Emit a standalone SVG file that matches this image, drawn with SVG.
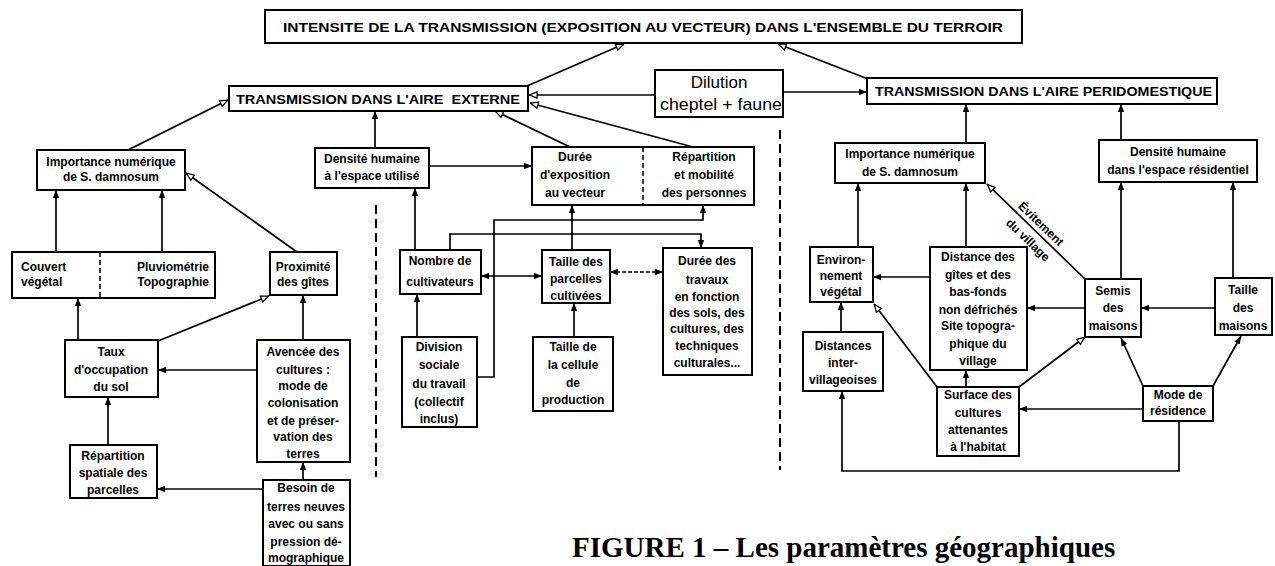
<svg xmlns="http://www.w3.org/2000/svg" width="1275" height="566" viewBox="0 0 1275 566">
<style>
.b{fill:#fff;stroke:#000;stroke-width:2}
.t{font-family:"Liberation Sans",Arial,sans-serif;font-size:12px;font-weight:bold;text-anchor:middle;fill:#000}
.h{font-family:"Liberation Sans",Arial,sans-serif;font-size:12.5px;font-weight:bold;fill:#000}
.c{fill:none;stroke:#000;stroke-width:1.7}
.f{marker-end:url(#af)}
.o{marker-end:url(#ah)}
.d2{marker-start:url(#af);marker-end:url(#af)}
.sep{fill:none;stroke:#000;stroke-width:2;stroke-dasharray:9 5}
.dv{stroke:#000;stroke-width:1.5;stroke-dasharray:5 3}
</style>
<defs>
<marker id="af" viewBox="0 0 10 10" refX="10" refY="5" markerWidth="8" markerHeight="8" markerUnits="userSpaceOnUse" orient="auto-start-reverse"><path d="M0,1 L10,5 L0,9 z" fill="#000"/></marker>
<marker id="ah" viewBox="0 0 10 10" refX="10" refY="5" markerWidth="9" markerHeight="9" markerUnits="userSpaceOnUse" orient="auto-start-reverse"><path d="M1,1.5 L9.5,5 L1,8.5 z" fill="#fff" stroke="#000" stroke-width="1.4"/></marker>
</defs>
<rect width="1275" height="566" fill="#fff"/>

<g id="connectors">
<path class="c o" d="M527,86 L624,44"/>
<path class="c o" d="M868,79 L778,44"/>
<path class="c o" d="M655,95 L529,95"/>
<path class="c f" d="M784,92 L867,92"/>
<path class="c o" d="M128,150 L228,100"/>
<path class="c f" d="M375,148 L375,111"/>
<path class="c o" d="M570,147 L495,111"/>
<path class="c o" d="M693,147 L530,103"/>
<path class="c f" d="M429,166 L532,166"/>
<path class="c f" d="M56,252 L56,190"/>
<path class="c f" d="M162,252 L162,190"/>
<path class="c o" d="M297,252 L186,173"/>
<path class="c f" d="M78,340 L78,298"/>
<path class="c o" d="M158,341 L269,296"/>
<path class="c f" d="M303,340 L303,295"/>
<path class="c f" d="M257,370 L158,370"/>
<path class="c f" d="M108,445 L108,397"/>
<path class="c f" d="M303,480 L303,462"/>
<path class="c f" d="M263,489 L157,489"/>
<path class="c f" d="M415,250 L415,188"/>
<path class="c f" d="M450,250 L450,234 L701,234 L701,248"/>
<path class="c f" d="M477,377 L494,377 L494,220 L703,220 L703,205"/>
<path class="c d2" d="M481,276 L542,276"/>
<path class="c d2" stroke-dasharray="4 2" d="M610,272 L663,272"/>
<path class="c f" d="M572,250 L572,205"/>
<path class="c f" d="M417,337 L417,294"/>
<path class="c f" d="M574,337 L574,303"/>
<path class="c f" d="M966,143 L966,104"/>
<path class="c f" d="M1121,140 L1121,104"/>
<path class="c f" d="M858,247 L858,183"/>
<path class="c f" d="M966,247 L966,183"/>
<path class="c o" d="M1085,279 L987,184"/>
<path class="c f" d="M1121,279 L1121,182"/>
<path class="c f" d="M1233,278 L1233,182"/>
<path class="c f" d="M930,277 L873,277"/>
<path class="c f" d="M1085,308 L1027,308"/>
<path class="c f" d="M1215,308 L1141,308"/>
<path class="c f" d="M841,332 L841,302"/>
<path class="c f" d="M966,387 L966,370"/>
<path class="c o" d="M937,387 L874,304"/>
<path class="c o" d="M1019,387 L1085,337"/>
<path class="c f" d="M1143,409 L1019,409"/>
<path class="c f" d="M1143,386 L1121,338"/>
<path class="c f" d="M1213,386 L1241,336"/>
<path class="c f" d="M1179,421 L1179,471 L842,471 L842,391"/>
<path class="sep" d="M376,205 L376,477"/>
<path class="sep" d="M780,130 L780,470"/>
<text class="t" font-size="11" transform="translate(1041,224) rotate(44)" dy="4">Évitement</text>
<text class="t" font-size="11" transform="translate(1028,240) rotate(44)" dy="4">du village</text>
</g>

<g id="n-title"><rect class="b" x="265" y="10" width="757" height="33"/>
<text class="h" x="283" y="32" font-size="13" textLength="720" lengthAdjust="spacingAndGlyphs">INTENSITE DE LA TRANSMISSION (EXPOSITION AU VECTEUR) DANS L'ENSEMBLE DU TERROIR</text></g>

<g id="n-ext"><rect class="b" x="229" y="86" width="299" height="25"/>
<text class="h" x="236" y="104" xml:space="preserve" textLength="284" lengthAdjust="spacingAndGlyphs">TRANSMISSION DANS L'AIRE  EXTERNE</text></g>

<g id="n-dilution"><rect class="b" x="655" y="70" width="128" height="47"/>
<text x="719" y="88" font-family="Liberation Sans, Arial, sans-serif" font-size="17" text-anchor="middle">Dilution</text>
<text x="660" y="110" font-family="Liberation Sans, Arial, sans-serif" font-size="17" textLength="122" lengthAdjust="spacingAndGlyphs">cheptel + faune</text></g>

<g id="n-peri"><rect class="b" x="867" y="78" width="350" height="26"/>
<text class="h" x="875" y="96" textLength="337" lengthAdjust="spacingAndGlyphs">TRANSMISSION DANS L'AIRE PERIDOMESTIQUE</text></g>

<g id="n-imp-l"><rect class="b" x="37" y="150" width="148" height="40"/>
<text class="t" x="111" y="166">Importance numérique</text><text class="t" x="111" y="181">de S. damnosum</text></g>

<g id="n-dens-u"><rect class="b" x="315" y="148" width="114" height="40"/>
<text class="t" x="372" y="163">Densité humaine</text><text class="t" x="372" y="180">à l'espace utilisé</text></g>

<g id="n-duree"><rect class="b" x="532" y="147" width="222" height="58"/>
<line class="dv" x1="643" y1="147" x2="643" y2="205"/>
<text class="t" x="575" y="161">Durée</text><text class="t" x="575" y="179">d'exposition</text><text class="t" x="575" y="197">au vecteur</text>
<text class="t" x="704" y="161">Répartition</text><text class="t" x="704" y="179">et mobilité</text><text class="t" x="704" y="197">des personnes</text></g>

<g id="n-couvert"><rect class="b" x="12" y="252" width="203" height="46"/>
<line class="dv" x1="100" y1="252" x2="100" y2="298"/>
<text class="t" x="21" y="271" style="text-anchor:start">Couvert</text><text class="t" x="21" y="286" style="text-anchor:start">végétal</text>
<text class="t" x="209" y="271" style="text-anchor:end">Pluviométrie</text><text class="t" x="209" y="286" style="text-anchor:end">Topographie</text></g>

<g id="n-prox"><rect class="b" x="270" y="252" width="67" height="43"/>
<text class="t" x="303" y="271">Proximité</text><text class="t" x="303" y="286">des gîtes</text></g>

<g id="n-taux"><rect class="b" x="65" y="340" width="93" height="57"/>
<text class="t" x="111" y="356">Taux</text><text class="t" x="111" y="374">d'occupation</text><text class="t" x="111" y="391">du sol</text></g>

<g id="n-avencee"><rect class="b" x="257" y="340" width="93" height="122"/>
<text class="t" x="303" y="356">Avencée des</text><text class="t" x="303" y="374">cultures :</text><text class="t" x="303" y="390">mode de</text><text class="t" x="303" y="407">colonisation</text><text class="t" x="303" y="425">et de préser-</text><text class="t" x="303" y="441">vation des</text><text class="t" x="303" y="458">terres</text></g>

<g id="n-repart"><rect class="b" x="70" y="445" width="87" height="53"/>
<text class="t" x="113" y="460">Répartition</text><text class="t" x="113" y="477">spatiale des</text><text class="t" x="113" y="494">parcelles</text></g>

<g id="n-besoin"><rect class="b" x="263" y="480" width="87" height="86"/>
<text class="t" x="306" y="492">Besoin de</text><text class="t" x="306" y="511">terres neuves</text><text class="t" x="306" y="528">avec ou sans</text><text class="t" x="306" y="546">pression dé-</text><text class="t" x="306" y="562">mographique</text></g>

<g id="n-nombre"><rect class="b" x="400" y="250" width="81" height="44"/>
<text class="t" x="440" y="265">Nombre de</text><text class="t" x="440" y="286">cultivateurs</text></g>

<g id="n-taille-p"><rect class="b" x="542" y="250" width="68" height="53"/>
<text class="t" x="576" y="266">Taille des</text><text class="t" x="576" y="283">parcelles</text><text class="t" x="576" y="300">cultivées</text></g>

<g id="n-duree-t"><rect class="b" x="663" y="248" width="89" height="127"/>
<text class="t" x="707" y="265">Durée des</text><text class="t" x="707" y="284">travaux</text><text class="t" x="707" y="301">en fonction</text><text class="t" x="707" y="317">des sols, des</text><text class="t" x="707" y="333">cultures, des</text><text class="t" x="707" y="350">techniques</text><text class="t" x="707" y="367">culturales...</text></g>

<g id="n-division"><rect class="b" x="402" y="337" width="75" height="90"/>
<text class="t" x="439" y="351">Division</text><text class="t" x="439" y="369">sociale</text><text class="t" x="439" y="388">du travail</text><text class="t" x="439" y="406">(collectif</text><text class="t" x="439" y="423">inclus)</text></g>

<g id="n-taille-c"><rect class="b" x="533" y="337" width="80" height="74"/>
<text class="t" x="573" y="351">Taille de</text><text class="t" x="573" y="369">la cellule</text><text class="t" x="573" y="387">de</text><text class="t" x="573" y="404">production</text></g>

<g id="n-imp-r"><rect class="b" x="835" y="143" width="150" height="40"/>
<text class="t" x="910" y="158">Importance numérique</text><text class="t" x="910" y="176">de S. damnosum</text></g>

<g id="n-dens-r"><rect class="b" x="1099" y="140" width="158" height="42"/>
<text class="t" x="1178" y="156">Densité humaine</text><text class="t" x="1178" y="174">dans l'espace résidentiel</text></g>

<g id="n-env"><rect class="b" x="810" y="247" width="63" height="55"/>
<text class="t" x="841" y="264">Environ-</text><text class="t" x="841" y="280">nement</text><text class="t" x="841" y="296">végétal</text></g>

<g id="n-distance"><rect class="b" x="930" y="247" width="97" height="123"/>
<text class="t" x="978" y="261">Distance des</text><text class="t" x="978" y="279">gîtes et des</text><text class="t" x="978" y="296">bas-fonds</text><text class="t" x="978" y="314">non défrichés</text><text class="t" x="978" y="330">Site topogra-</text><text class="t" x="978" y="348">phique du</text><text class="t" x="978" y="365">village</text></g>

<g id="n-semis"><rect class="b" x="1085" y="279" width="56" height="58"/>
<text class="t" x="1113" y="295">Semis</text><text class="t" x="1113" y="312">des</text><text class="t" x="1113" y="330">maisons</text></g>

<g id="n-taille-m"><rect class="b" x="1215" y="278" width="57" height="57"/>
<text class="t" x="1243" y="294">Taille</text><text class="t" x="1243" y="312">des</text><text class="t" x="1243" y="330">maisons</text></g>

<g id="n-dist-inter"><rect class="b" x="803" y="332" width="80" height="59"/>
<text class="t" x="843" y="350">Distances</text><text class="t" x="843" y="367">inter-</text><text class="t" x="843" y="384">villageoises</text></g>

<g id="n-surface"><rect class="b" x="937" y="387" width="82" height="69"/>
<text class="t" x="978" y="399">Surface des</text><text class="t" x="978" y="417">cultures</text><text class="t" x="978" y="434">attenantes</text><text class="t" x="978" y="451">à l'habitat</text></g>

<g id="n-mode"><rect class="b" x="1143" y="386" width="70" height="35"/>
<text class="t" x="1178" y="399">Mode de</text><text class="t" x="1178" y="415">résidence</text></g>

<text x="572" y="557" font-family="Liberation Serif, 'Times New Roman', serif" font-size="29" font-weight="bold" fill="#000">FIGURE 1 – Les paramètres géographiques</text>
</svg>
